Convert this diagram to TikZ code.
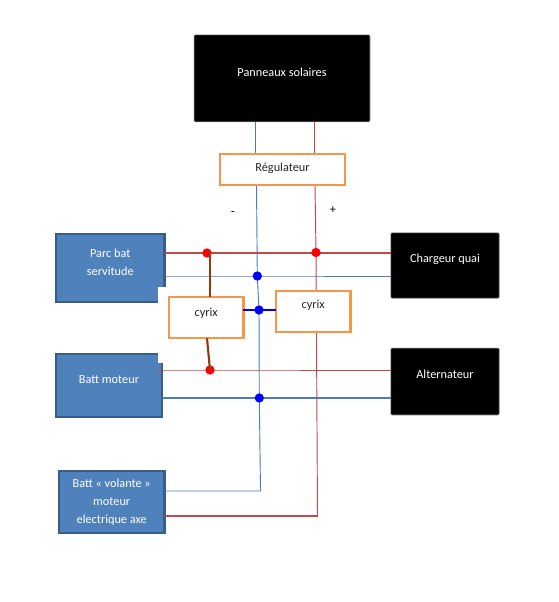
\documentclass[tikz,border=0pt]{standalone}
\usepackage{fontspec}
\setmainfont{Carlito}
\pgfdeclarelayer{bg}
\pgfdeclarelayer{wire}
\pgfsetlayers{bg,wire,main}
\definecolor{wblue}{HTML}{4A7EBB}
\definecolor{wred}{HTML}{BE4B48}
\definecolor{bfill}{HTML}{4F81BD}
\definecolor{bedge}{HTML}{385D8A}
\definecolor{orng}{HTML}{F79646}
\definecolor{brown2}{HTML}{953A0A}
\tikzset{
  x=0.75pt,y=-0.75pt,
  every node/.style={font=\fontsize{9.2pt}{13.5pt}\selectfont,inner sep=0pt,outer sep=0pt,align=center},
  batt/.style={draw=bedge,line width=1.7pt,fill=bfill,text=white},
  blk/.style={draw=black!35,line width=0.4pt,fill=black,text=white,rounded corners=0.8pt},
  orbox/.style={draw=orng,line width=1.6pt,fill=white,text=black!85},
  sz/.style 2 args={minimum width=#1*0.75pt,minimum height=#2*0.75pt},
  thinb/.style={draw=wblue,line width=0.7pt},
  thickb/.style={draw=wblue,line width=1.3pt},
  thinr/.style={draw=wred,line width=0.7pt},
  thickr/.style={draw=wred,line width=1.3pt},
  cyrixlink/.style={draw=brown2,line width=1.6pt},
  bluelink/.style={draw=blue,line width=1.4pt},
  rdot/.style={circle,fill=red,minimum size=7pt},
  bdot/.style={circle,fill=blue,minimum size=7pt},
  sign/.style={text=black}
}
\begin{document}
\begin{tikzpicture}
\useasboundingbox (0,0) rectangle (558,602);
% junction and free-end coordinates
\coordinate (ptb) at (255.5,0);
\coordinate (ptr) at (314,0);
\coordinate (rgb) at (256.5,0);
\coordinate (rgr) at (315,0);
\coordinate (botb) at (260.5,491);
\coordinate (botr) at (317.5,516);
\coordinate (lnkA) at (210,0);
\coordinate (lnkB) at (207,0);
% boxes
\begin{pgfonlayer}{bg}
\node[batt,sz={108.5}{67.5},text depth=9pt] (parc) at (110.3,268) {Parc bat\\servitude};
\node[batt,sz={105.5}{63.5},text depth=9.5pt] (mot) at (109,385.5) {Batt moteur};
\node[batt,sz={105.5}{61.5}] (vol) at (111.7,502) {Batt « volante »\\moteur\\electrique axe};
\node[blk,sz={176}{87},text depth=8.5pt] (pan) at (282,78.3) {Panneaux solaires};
\node[blk,sz={108.5}{65.5},text depth=11pt] (chg) at (445,265.5) {Chargeur quai};
\node[blk,sz={108.5}{67},text depth=10.5pt] (alt) at (445,381.5) {Alternateur};
\end{pgfonlayer}
\node[orbox,sz={125}{31},text depth=3.5pt] (reg) at (282.5,169.3) {Régulateur};
\node[orbox,sz={74.5}{41.5},text depth=8pt] (cyl) at (206.2,317.5) {cyrix};
\node[orbox,sz={74.5}{41.5},text depth=10.5pt] (cyr) at (313.2,311.5) {cyrix};
\node[sign] (minus) at (233,214) {-};
\node[sign] (plus) at (333,210) {+};
% junction dots
\node[rdot] (r1) at (207,253) {};
\node[rdot] (r2) at (316,252.5) {};
\node[rdot] (r3) at (210,370) {};
\node[bdot] (b1) at (257.3,276) {};
\node[bdot] (b2) at (259,310) {};
\node[bdot] (b3) at (259.3,398) {};
\begin{pgfonlayer}{wire}
\fill[white] (158,287) rectangle (170,363);
% panel to regulator
\draw[thinb] (pan.south -| ptb) -- (reg.north -| ptb);
\draw[thinr] (pan.south -| ptr) -- (reg.north -| ptr);
% main verticals
\draw[thinb] (reg.south -| rgb) -- (b1.center) -- (b2.center) -- (b3.center) -- (botb) -- (vol.east |- botb);
\draw[thinr] (reg.south -| rgr) -- (r2.center) -- (botr);
\draw[thickr] (vol.east |- botr) -- (botr);
% horizontal buses
\draw[thickr] (parc.east |- r1) -- (r1.center) -- (chg.west |- r1);
\draw[thinb] (parc.east |- b1) -- (b1.center) -- (chg.west |- b1);
\draw[thinr] (158,370) -- (r3.center) -- (alt.west |- r3);
\draw[thickb] (mot.east |- b3) -- (b3.center) -- (alt.west |- b3);
\end{pgfonlayer}
% cyrix links
\draw[cyrixlink] (r1.center -| lnkA) -- (cyl.north -| lnkA);
\draw[cyrixlink] (cyl.south -| lnkB) -- (r3.center);
\draw[bluelink] (cyl.east |- b2) -- (b2.center) -- (cyr.west |- b2);
\end{tikzpicture}
\end{document}
